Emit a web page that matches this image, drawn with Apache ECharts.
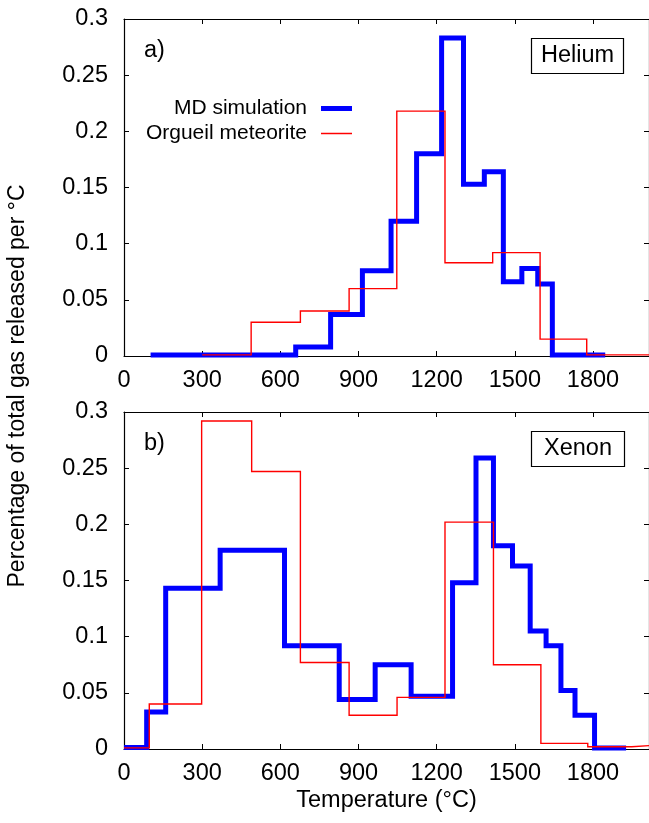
<!DOCTYPE html>
<html>
<head>
<meta charset="utf-8">
<script src="https://cdn.jsdelivr.net/npm/echarts@6/dist/echarts.min.js"></script>
<style>
  html, body { margin: 0; padding: 0; background: #fff; }
  #chart { width: 649px; height: 823px; }
</style>
</head>
<body>
<div id="chart"></div>
<script>
// 温度刻度
const xTicks = [0, 300, 600, 900, 1200, 1500, 1800];

// Helium: bin edges (°C) and levels
const heliumMdEdges = [102, 659, 793, 915, 1025, 1123, 1219, 1303, 1383, 1456, 1527, 1588, 1644, 1847];
const heliumMdValues = [0.001, 0.008, 0.037, 0.076, 0.12, 0.18, 0.283, 0.153, 0.164, 0.066, 0.078, 0.064, 0.001];
const heliumOrgEdges = [300, 488, 677, 864, 1047, 1232, 1415, 1597, 1776, 2015];
const heliumOrgValues = [0.001, 0.03, 0.04, 0.06, 0.218, 0.083, 0.092, 0.015, 0.001];

// Xenon
const xenonMdEdges = [0, 87, 160, 369, 616, 826, 964, 1102, 1261, 1351, 1418, 1491, 1559, 1620, 1677, 1731, 1806, 1927];
const xenonMdValues = [0.0014, 0.033, 0.143, 0.177, 0.092, 0.044, 0.075, 0.047, 0.148, 0.259, 0.181, 0.163, 0.105, 0.092, 0.052, 0.030, 0.001];
const xenonOrgEdges = [0, 97, 298, 490, 677, 864, 1048, 1232, 1418, 1600, 1780, 1949, 2015];
const xenonOrgValues = [0.001, 0.040, 0.292, 0.247, 0.077, 0.030, 0.046, 0.202, 0.075, 0.005, 0.002, 0.003];

const FONT = '"Liberation Sans", Arial, Helvetica, sans-serif';
const BLUE = '#0000ff';
const RED = '#ff0000';
const FS = 23.5;   // 刻度/标题字号
const LFS = 21;    // 图例字号

// 把 edges + values 转成阶梯线数据
function toSteps(edges, values) {
  const pts = [];
  for (let i = 0; i < values.length; i++) {
    pts.push([edges[i], values[i]]);
  }
  pts.push([edges[edges.length - 1], values[values.length - 1]]);
  return pts;
}

const grids = [
  { left: 124, top: 19, width: 525, height: 337 },
  { left: 124, top: 412, width: 525, height: 337 }
];

const xAxes = [];
const yAxes = [];
grids.forEach((g, i) => {
  const base = {
    type: 'value', gridIndex: i, min: 0, max: 2015, interval: 300,
    splitLine: { show: false },
    axisLine: { show: true, onZero: false, lineStyle: { color: '#000', width: 1.2 } },
    axisTick: { show: true, inside: true, length: 5, lineStyle: { color: '#000' } }
  };
  xAxes.push(Object.assign({}, base, {
    position: 'bottom',
    axisLabel: {
      show: true, showMaxLabel: false, margin: 13, color: '#000', fontSize: FS, fontFamily: FONT,
      formatter: v => (xTicks.indexOf(v) >= 0 ? String(v) : '')
    },
    name: i === 1 ? 'Temperature (°C)' : '',
    nameLocation: 'middle',
    nameGap: 40,
    nameTextStyle: { color: '#000', fontSize: FS, fontFamily: FONT }
  }));
  xAxes.push(Object.assign({}, base, { position: 'top', axisLabel: { show: false } }));

  const ybase = {
    type: 'value', gridIndex: i, min: 0, max: 0.3, interval: 0.05,
    splitLine: { show: false },
    axisLine: { show: true, onZero: false, lineStyle: { color: '#000', width: 1.2 } },
    axisTick: { show: true, inside: true, length: 5, lineStyle: { color: '#000' } }
  };
  yAxes.push(Object.assign({}, ybase, {
    position: 'left',
    axisLabel: {
      margin: 16, color: '#000', fontSize: FS, fontFamily: FONT,
      formatter: v => String(+v.toFixed(2))
    }
  }));
  yAxes.push(Object.assign({}, ybase, { position: 'right', axisLabel: { show: false } }));
});

function stepSeries(name, data, axis, color, width) {
  return {
    name: name, type: 'line', step: 'end',
    xAxisIndex: axis * 2, yAxisIndex: axis * 2,
    data: data, symbol: 'none', color: color,
    lineStyle: { color: color, width: width, join: 'miter', cap: 'butt' },
    animation: false
  };
}

const series = [
  stepSeries('MD simulation', toSteps(heliumMdEdges, heliumMdValues), 0, BLUE, 5),
  stepSeries('Orgueil meteorite', toSteps(heliumOrgEdges, heliumOrgValues), 0, RED, 1.4),
  stepSeries('MD simulation', toSteps(xenonMdEdges, xenonMdValues), 1, BLUE, 5),
  stepSeries('Orgueil meteorite', toSteps(xenonOrgEdges, xenonOrgValues), 1, RED, 1.4)
];

const legendBase = {
  orient: 'vertical', align: 'right', right: 297, padding: 0,
  itemWidth: 31, icon: 'rect', selectedMode: false,
  textStyle: { color: '#000', fontSize: LFS, fontFamily: FONT, padding: [0, 9, 0, 0] }
};

const boxStyle = { color: '#000', fontSize: FS, fontWeight: 'normal', fontFamily: FONT };

const chart = echarts.init(document.getElementById('chart'));
chart.setOption({
  backgroundColor: '#fff',
  animation: false,
  grid: grids,
  xAxis: xAxes,
  yAxis: yAxes,
  series: series,
  legend: [
    Object.assign({}, legendBase, { data: ['MD simulation'], top: 98, itemHeight: 5 }),
    Object.assign({}, legendBase, { data: ['Orgueil meteorite'], top: 123, itemHeight: 1.5 })
  ],
  title: [
    { text: 'a)', left: 144, top: 39, padding: 0, textStyle: boxStyle },
    { text: 'b)', left: 144, top: 432, padding: 0, textStyle: boxStyle },
    { text: 'Helium', left: 531, top: 38, padding: [6, 10], borderColor: '#000', borderWidth: 1.2, textStyle: boxStyle },
    { text: 'Xenon', left: 531, top: 431, padding: [6, 13], borderColor: '#000', borderWidth: 1.2, textStyle: boxStyle }
  ],
  graphic: [{
    type: 'text', x: 18, y: 386, rotation: Math.PI / 2,
    style: {
      text: 'Percentage of total gas released per °C',
      fill: '#000', font: '23px ' + FONT, align: 'center', verticalAlign: 'middle'
    }
  }]
});
</script>
</body>
</html>
